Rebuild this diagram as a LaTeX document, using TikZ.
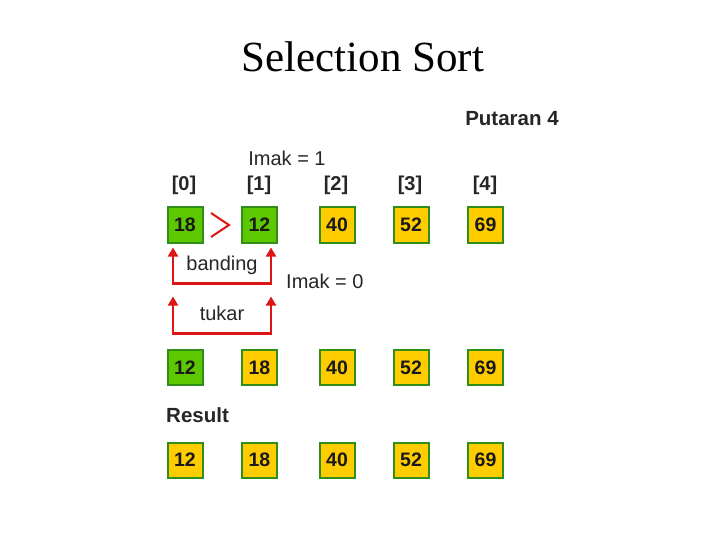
\documentclass[tikz,border=0pt]{standalone}
\usepackage{fontspec}
\setmainfont{Liberation Sans}
\newfontfamily\titlefont{Liberation Serif}
\usetikzlibrary{arrows.meta,calc}
\definecolor{boxgreen}{HTML}{5DC800}
\definecolor{boxyellow}{HTML}{FFCC00}
\definecolor{boxedge}{HTML}{2F8F1A}
\definecolor{arrred}{HTML}{DD1515}
\tikzset{
  cell/.style={draw=boxedge, line width=2pt, minimum width=35pt, minimum height=35pt, inner sep=0pt, font=\fontsize{19.5}{22}\selectfont\bfseries, text=black!90},
  gcell/.style={cell, fill=boxgreen},
  ycell/.style={cell, fill=boxyellow},
  idx/.style={font=\fontsize{20}{24}\selectfont\bfseries, text=black!85, inner sep=0pt},
  lbl/.style={font=\fontsize{20}{24}\selectfont, text=black!85, inner sep=0pt},
  redarr/.style={draw=arrred, line width=2.8pt, {Triangle[width=10pt,length=9pt]}-{Triangle[width=10pt,length=9pt]}},
}
\begin{document}
\begin{tikzpicture}[x=1pt,y=-1pt]
\useasboundingbox (0,0) rectangle (720,540);
\node[font=\titlefont\fontsize{43}{48}\selectfont, inner sep=0pt] (title) at (363,57) {Selection Sort};
\node[lbl, font=\fontsize{20.5}{24}\selectfont\bfseries] (put) at (512,119) {Putaran 4};
\node[lbl] (imak1) at (287,158) {Imak = 1};
% indices
\node[idx] (i0) at (184,185) {[0]};
\node[idx] (i1) at (259,185) {[1]};
\node[idx] (i2) at (336,185) {[2]};
\node[idx] (i3) at (410,185) {[3]};
\node[idx] (i4) at (485,185) {[4]};
% row 1
\node[gcell] (a0) at (185,225) {18};
\node[gcell] (a1) at (259.5,225) {12};
\node[ycell] (a2) at (337,225) {40};
\node[ycell] (a3) at (411,225) {52};
\node[ycell] (a4) at (485.5,225) {69};
% greater-than sign
\coordinate (g1) at (211,213);
\coordinate (g2) at (229,225);
\coordinate (g3) at (211,237);
\draw[arrred, line width=2pt, line join=miter] (g1) -- (g2) -- (g3);
% banding arrows
\coordinate (t0) at ($(a0.south)+(-12,4)$);
\coordinate (t1) at ($(a1.south)+(11.5,4)$);
\coordinate (c0) at ($(t0)+(0,36)$);
\coordinate (c1) at ($(t1)+(0,36)$);
\draw[redarr] (t0) -- (c0) -- (c1) -- (t1);
\node[lbl] (band) at (222,265) {banding};
\node[lbl, anchor=west] (imak0) at (286,281) {Imak = 0};
% tukar arrows
\coordinate (u0) at ($(c0)+(0,13)$);
\coordinate (u1) at ($(c1)+(0,13)$);
\coordinate (d0) at ($(u0)+(0,37)$);
\coordinate (d1) at ($(u1)+(0,37)$);
\draw[redarr] (u0) -- (d0) -- (d1) -- (u1);
\node[lbl] (tuk) at (222,313) {tukar};
% row 2
\node[gcell] (b0) at (185,367.5) {12};
\node[ycell] (b1) at (259.5,367.5) {18};
\node[ycell] (b2) at (337,367.5) {40};
\node[ycell] (b3) at (411,367.5) {52};
\node[ycell] (b4) at (485.5,367.5) {69};
\node[idx, anchor=west, font=\fontsize{20.5}{24}\selectfont\bfseries] (res) at (166,415) {Result};
% row 3
\node[ycell] (r0) at (185,460) {12};
\node[ycell] (r1) at (259.5,460) {18};
\node[ycell] (r2) at (337,460) {40};
\node[ycell] (r3) at (411,460) {52};
\node[ycell] (r4) at (485.5,460) {69};
\end{tikzpicture}
\end{document}
